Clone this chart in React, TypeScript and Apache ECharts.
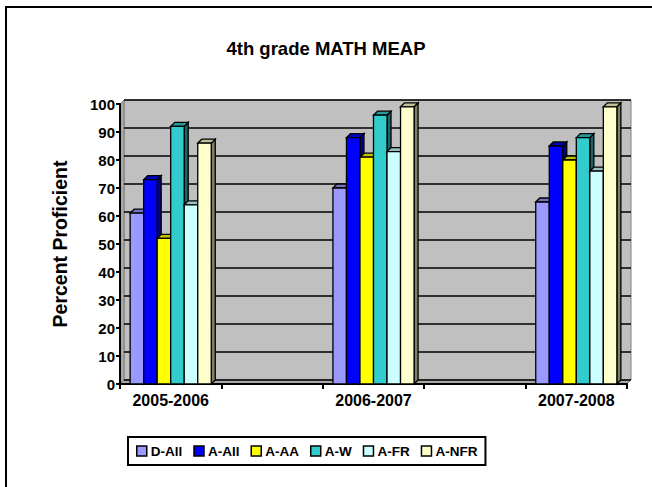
import React, { useEffect, useRef } from "react";
import * as echarts from "echarts";

const categories = ["2005-2006", "", "2006-2007", "", "2007-2008"];
const seriesNames = ["D-All", "A-All", "A-AA", "A-W", "A-FR", "A-NFR"];
const colors = ["#9999FF", "#0000FF", "#FFFF00", "#33CCCC", "#CCFFFF", "#FFFFCC"];
const dataIndex = [0, 2, 4];
const dAll = [61, 70, 65];
const aAll = [73, 88, 85];
const aAA = [52, 81, 80];
const aW = [92, 96, 88];
const aFR = [64, 83, 76];
const aNFR = [86, 99, 99];
const values = [dAll, aAll, aAA, aW, aFR, aNFR];
const yTicks = { min: 0, max: 100, interval: 10 };

const FONT = "Arial, 'Liberation Sans', sans-serif";
const D = 4;

function shade(hex: string, f: number) {
  const n = parseInt(hex.slice(1), 16);
  const r = Math.round(((n >> 16) & 255) * f);
  const g = Math.round(((n >> 8) & 255) * f);
  const b = Math.round((n & 255) * f);
  return `rgb(${r},${g},${b})`;
}

function makeRender(si: number, color: string) {
  const side = shade(color, 0.5);
  const topc = shade(color, 0.75);
  return (params: any, api: any) => {
    const idx = api.value(0);
    const val = api.value(1);
    const base = api.coord([idx, 0]);
    const top = api.coord([idx, val]);
    const band = api.size([1, 0])[0];
    const groupW = band * 0.8;
    const bw = groupW / 6;
    const x0 = base[0] - groupW / 2 + si * bw;
    const x1 = x0 + bw;
    const yb = base[1];
    const yt = top[1];
    return {
      type: "group",
      children: [
        {
          type: "polygon",
          shape: { points: [[x1, yb], [x1 + D, yb - D], [x1 + D, yt - D], [x1, yt]] },
          style: { fill: side, stroke: "#000", lineWidth: 1.3 },
        },
        {
          type: "polygon",
          shape: { points: [[x0, yt], [x0 + D, yt - D], [x1 + D, yt - D], [x1, yt]] },
          style: { fill: topc, stroke: "#000", lineWidth: 1.3 },
        },
        {
          type: "rect",
          shape: { x: x0, y: yt, width: bw, height: yb - yt },
          style: { fill: color, stroke: "#000", lineWidth: 1.3 },
        },
      ],
    };
  };
}

export default function App() {
  const ref = useRef<HTMLDivElement>(null);
  useEffect(() => {
    if (!ref.current) return;
    const chart = echarts.init(ref.current, null, { renderer: "svg" });
    const series = seriesNames.map((name, si) => ({
      name,
      type: "custom",
      xAxisIndex: 0,
      yAxisIndex: 0,
      itemStyle: { color: colors[si] },
      renderItem: makeRender(si, colors[si]),
      encode: { x: 0, y: 1 },
      data: dataIndex.map((c, i) => [c, values[si][i]]),
      z: 3,
    }));
    chart.setOption({
      animation: false,
      backgroundColor: "#fff",
      title: {
        text: "4th grade MATH MEAP",
        left: "center",
        top: 34,
        textStyle: { fontFamily: FONT, fontSize: 18.5, fontWeight: "bold", color: "#000" },
      },
      legend: {
        left: 128,
        top: 437,
        orient: "horizontal",
        borderColor: "#000",
        borderWidth: 2,
        padding: [7, 8, 7, 8],
        itemWidth: 10,
        itemHeight: 10,
        itemGap: 11,
        textStyle: { fontFamily: FONT, fontSize: 13.5, fontWeight: "bold", color: "#000", padding: [0, 0, 0, -1] },
        data: seriesNames.map((n, i) => ({
          name: n,
          icon: "rect",
          itemStyle: { color: colors[i], borderColor: "#000", borderWidth: 1.5 },
        })),
      },
      grid: [
        { left: 120, right: 25, top: 104, bottom: 103, containLabel: false },
        {
          left: 124,
          right: 21,
          top: 100,
          bottom: 107,
          show: true,
          backgroundColor: "#C0C0C0",
          borderColor: "#808080",
          borderWidth: 1,
          z: 0,
        },
      ],
      xAxis: [
        {
          type: "category",
          gridIndex: 0,
          data: categories,
          axisLine: { lineStyle: { color: "#000", width: 2 } },
          axisTick: { show: true, interval: 0, length: 5, lineStyle: { color: "#000", width: 2 } },
          axisLabel: {
            interval: 0,
            margin: 8,
            fontFamily: FONT,
            fontSize: 16,
            fontWeight: "bold",
            color: "#000",
          },
          z: 2,
        },
        {
          type: "category",
          gridIndex: 1,
          data: categories,
          show: false,
        },
      ],
      yAxis: [
        {
          type: "value",
          gridIndex: 0,
          ...yTicks,
          name: "Percent Proficient",
          nameLocation: "middle",
          nameGap: 50,
          nameTextStyle: { fontFamily: FONT, fontSize: 19.5, fontWeight: "bold", color: "#000" },
          axisLine: { show: true, lineStyle: { color: "#000", width: 2 } },
          axisTick: { show: true, length: 4, lineStyle: { color: "#000", width: 2 } },
          axisLabel: { margin: 5, fontFamily: FONT, fontSize: 15, fontWeight: "bold", color: "#000" },
          splitLine: { show: false },
          z: 2,
        },
        {
          type: "value",
          gridIndex: 1,
          ...yTicks,
          axisLine: { show: false },
          axisTick: { show: false },
          axisLabel: { show: false },
          splitLine: { show: true, lineStyle: { color: "#000", width: 1.5 } },
          z: 1,
        },
      ],
      graphic: [
        {
          type: "polygon",
          z: 1,
          shape: { points: [[120, 104], [124, 100], [124, 380], [120, 384]] },
          style: { fill: "#a8a8a8", stroke: "#808080", lineWidth: 1 },
        },
        {
          type: "polygon",
          z: 1,
          shape: { points: [[120, 384], [124, 380], [631, 380], [627, 384]] },
          style: { fill: "#a8a8a8", stroke: "#808080", lineWidth: 1 },
        },
        {
          type: "rect",
          z: 10,
          shape: { x: 6, y: 7, width: 700, height: 600 },
          style: { fill: "none", stroke: "#000", lineWidth: 2 },
        },
      ],
      series,
    });
    return () => chart.dispose();
  }, []);
  return (
    <div
      ref={ref}
      style={{ position: "fixed", left: 0, top: 0, width: 652, height: 487, background: "#fff" }}
    />
  );
}
